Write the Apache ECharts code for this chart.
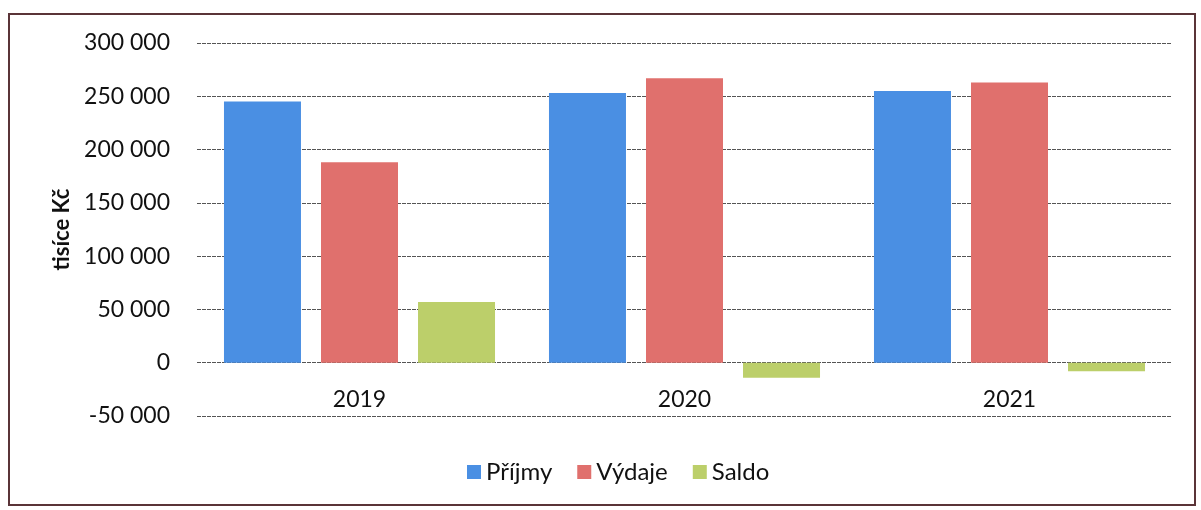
<!DOCTYPE html>
<html>
<head>
<meta charset="utf-8">
<script src="https://cdn.jsdelivr.net/npm/echarts@6/dist/echarts.min.js"></script>
<style>
  html, body { margin: 0; padding: 0; background: #fff; }
  #chart { width: 1201px; height: 510px; }
</style>
</head>
<body>
<div id="chart"></div>
<script>
// data (tisíce Kč)
var years = ['2019', '2020', '2021'];
var prijmy = [245000, 253000, 255000];
var vydaje = [188000, 267000, 263000];
var saldo = [57000, -14000, -8000];
var seriesNames = ['Příjmy', 'Výdaje', 'Saldo'];

var font = 'Lato, "Noto Sans", sans-serif';

function fmt (v) {
  var s = String(Math.abs(v)).replace(/\B(?=(\d{3})+(?!\d))/g, ' ');
  return (v < 0 ? '-' : '') + s;
}

var chart = echarts.init(document.getElementById('chart'));
chart.setOption({
  animation: false,
  color: ['#4a8fe3', '#e0706d', '#bccf6a'],
  graphic: [{
    type: 'rect',
    shape: { x: 9, y: 14, width: 1186, height: 491 },
    style: { fill: 'none', stroke: '#5a3438', lineWidth: 2 }
  }],
  grid: { left: 197, right: 29, top: 43, bottom: 94 },
  legend: {
    data: seriesNames,
    top: 455,
    left: 462,
    itemWidth: 14,
    itemHeight: 14,
    itemGap: 25,
    icon: 'rect',
    textStyle: { fontFamily: font, fontSize: 24, color: '#111' }
  },
  xAxis: {
    type: 'category',
    data: years,
    axisTick: { show: false },
    axisLine: { show: false, onZero: false },
    axisLabel: { fontFamily: font, fontSize: 23, color: '#111', margin: -28 }
  },
  yAxis: {
    type: 'value',
    min: -50000,
    max: 300000,
    interval: 50000,
    name: 'tisíce Kč',
    nameLocation: 'middle',
    nameGap: 120,
    nameTextStyle: { fontFamily: font, fontSize: 22, fontWeight: 'bold', color: '#111' },
    axisLabel: { fontFamily: font, fontSize: 23, color: '#111', margin: 27, formatter: fmt },
    splitLine: { lineStyle: { color: '#555', width: 1, type: [4, 1] } }
  },
  series: [
    { name: seriesNames[0], type: 'bar', data: prijmy, barWidth: 77, barGap: '26%' },
    { name: seriesNames[1], type: 'bar', data: vydaje, barWidth: 77, barGap: '26%' },
    { name: seriesNames[2], type: 'bar', data: saldo, barWidth: 77, barGap: '26%' }
  ]
});
</script>
</body>
</html>
